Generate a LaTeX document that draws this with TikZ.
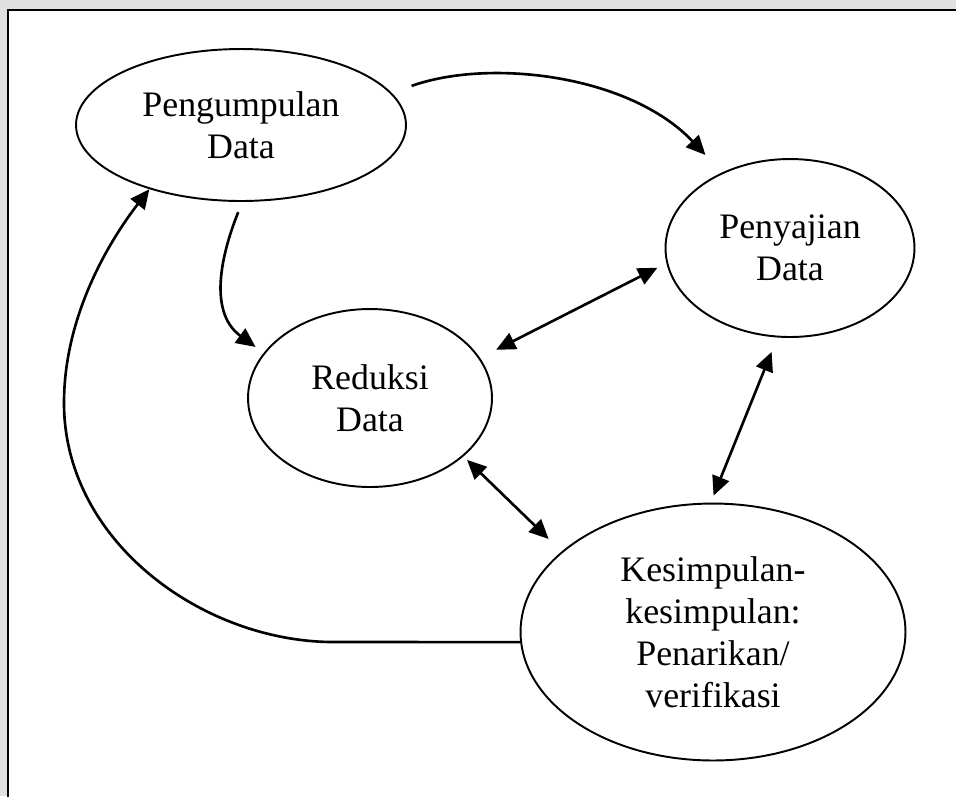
\documentclass[tikz,border=0pt]{standalone}
\usepackage{fontspec}
\setmainfont{Liberation Serif}
\usepackage{tikz}
\usetikzlibrary{positioning, calc}
\usetikzlibrary{shapes.geometric, arrows.meta}

\tikzset{
    blob/.style={draw, ellipse, line width=1.1pt, inner sep=0pt, align=center,
        font=\fontsize{20.4}{23.8}\selectfont},
    onearrow/.style={line width=1.5pt, -{Triangle[length=11pt,width=10pt]}},
    twoarrow/.style={line width=1.5pt, {Triangle[length=11pt,width=10pt]}-{Triangle[length=11pt,width=10pt]}}
}

\begin{document}
\begin{tikzpicture}[x=0.02cm, y=-0.02cm]
                \useasboundingbox (0,0) rectangle (956,796);
                \clip (0,0) rectangle (956,796);
                \fill[black!12] (0,0) rectangle (956,796);
                \draw[line width=1.1pt, fill=white] (8,10) rectangle (980,820);

                \node[blob, minimum width=6.6cm, minimum height=3.04cm] (peng) at (241,125) {Pengumpulan\\Data};
                \node[blob, minimum width=4.98cm, minimum height=3.56cm] (sajian) at (790,248) {Penyajian\\Data};
                \node[blob, minimum width=4.88cm, minimum height=3.56cm] (reduksi) at (370,398) {Reduksi\\Data};
                \node[blob, minimum width=7.7cm, minimum height=5.14cm] (kesimpulan) at (713,632) {Kesimpulan-\\kesimpulan:\\Penarikan/\\verifikasi};

                \draw[onearrow, shorten <=0.42cm, shorten >=0.48cm] (peng.12) .. controls (490,58) and (630,75) .. (sajian.132);
                \draw[onearrow, shorten <=0.22cm, shorten >=0.2cm] (peng.271) .. controls (225,245) and (205,310) .. (reduksi.157);
                \draw[twoarrow, shorten <=0.36cm, shorten >=0.2cm] (reduksi.20) -- (sajian.187);
                \draw[twoarrow, shorten <=0.31cm, shorten >=0.15cm] (sajian.262) -- (kesimpulan.91);
                \draw[twoarrow, shorten <=0.1cm, shorten >=0.36cm] (reduksi.328) -- (kesimpulan.152);
                \draw[onearrow] (kesimpulan.183) -- (330,642) .. controls (200,640) and (64,540) .. (64,403)
                    .. controls (64,315) and (110,240) .. (peng.215);
            \end{tikzpicture}
\end{document}
